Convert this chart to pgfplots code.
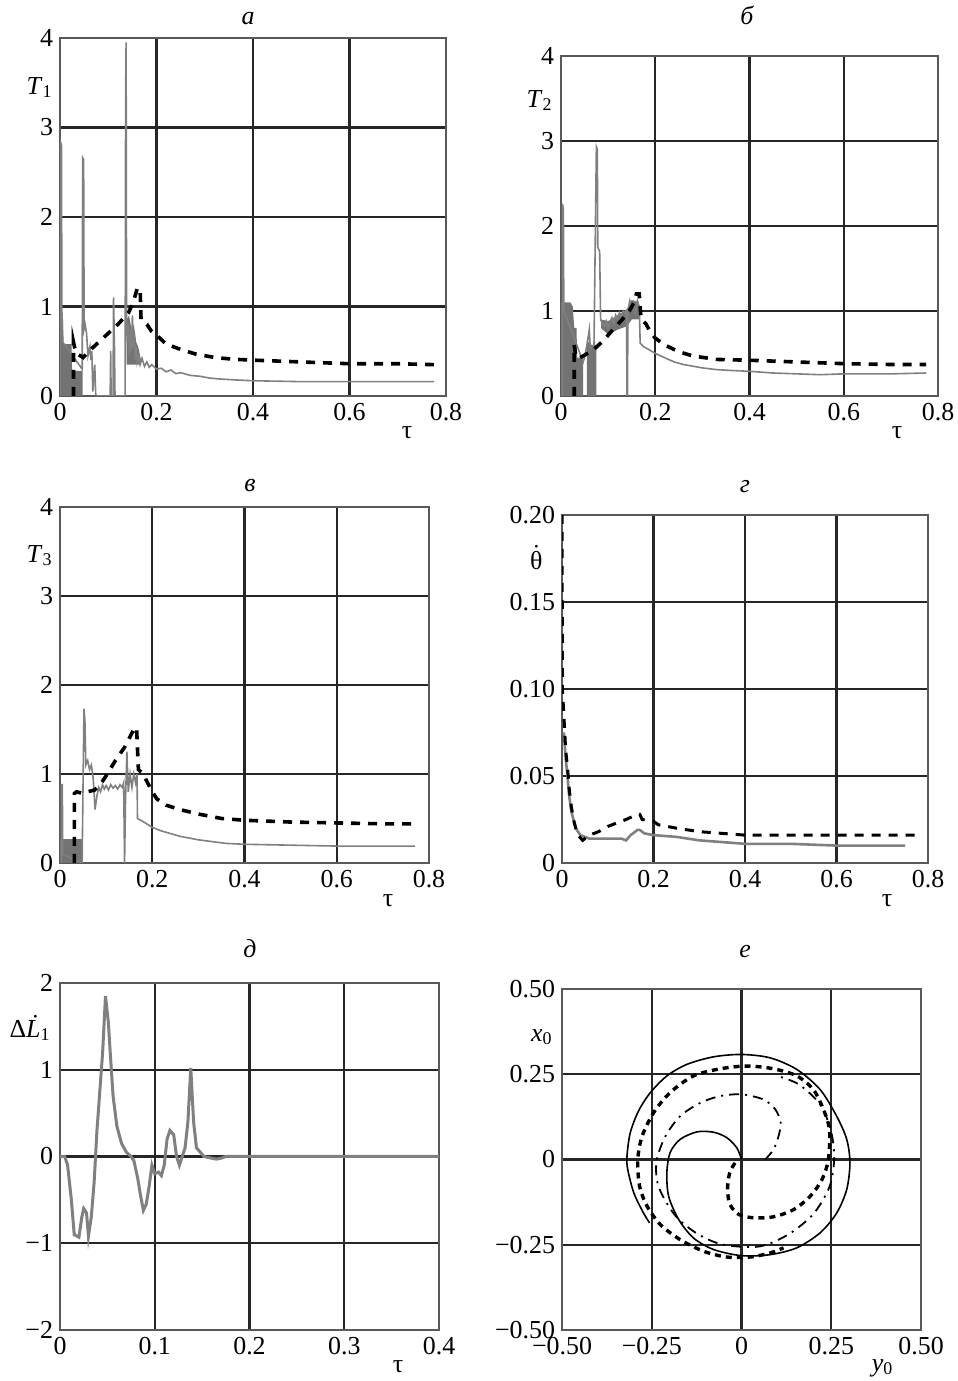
\documentclass[border=0pt]{standalone}
\usepackage{fontspec}
\setmainfont{Liberation Serif}
\usepackage{pgfplots}
\pgfplotsset{compat=1.18}

\pgfplotsset{
  panel/.style={
    scale only axis,
    anchor=south west,
    grid=major,
    major grid style={black!85, line width=1.1bp},
    axis line style={black!65, line width=0.6bp},
    tick style={draw=none},
    ticklabel style={font=\fontsize{13}{15}\selectfont},
    /pgf/number format/assume math mode=true,
  },
  tpanel/.style={panel, xmin=0, xmax=0.8, ymin=0, ymax=4,
    xtick={0,0.2,0.4,0.6,0.8}, xticklabels={0,0.2,0.4,0.6,0.8},
    ytick={0,1,2,3,4}, yticklabels={0,1,2,3,4}},
  grayln/.style={black!50, line width=0.8bp, no marks},
  grayfill/.style={fill=black!55, draw=none, no marks},
  dashln/.style={black, line width=1.8bp, dash pattern=on 4.5bp off 4bp, no marks},
}
\newcommand{\sub}[1]{\raisebox{-0.25ex}{\fontsize{9}{10}\selectfont #1}}

\begin{document}
\begin{tikzpicture}[x=0.5bp, y=0.5bp, font=\fontsize{13}{15}\selectfont]
\path[use as bounding box] (0,0) rectangle (957,1381);

% ---- a: T1
\begin{axis}[tpanel, at={(30bp,492.5bp)}, width=193bp, height=179bp]
  \addplot[grayfill] coordinates {(0,0.93) (0.006,0.93) (0.007,0.58) (0.024,0.58) (0.025,0.28) (0.047,0.28)} \closedcycle;
  \addplot[grayfill] coordinates {(0.138,0.35) (0.138,0.85) (0.143,0.9) (0.148,0.75) (0.153,0.8) (0.158,0.6) (0.162,0.55) (0.166,0.45) (0.168,0.4) (0.168,0.35)};
  \addplot[grayln] coordinates {
    (0.000,0) (0.0015,2.83) (0.003,2.80) (0.004,0.9) (0.006,0.6) (0.046,0.3)
    (0.047,2.66) (0.049,2.64) (0.050,0.75) (0.052,0.8) (0.055,0.7) (0.058,0.45)
    (0.062,0.55) (0.064,0.4) (0.066,0.5) (0.068,0.05) (0.072,0.35) (0.074,0.02)
    (0.076,0) (0.104,0) (0.105,0.5) (0.106,0) (0.110,0) (0.111,1.1) (0.113,0.5)
    (0.114,0) (0.135,0) (0.136,3.35) (0.137,3.95) (0.138,0.9) (0.140,0.6)
    (0.142,0.8) (0.144,0.45) (0.146,0.75) (0.148,0.5) (0.150,0.9) (0.152,0.55)
    (0.154,0.7) (0.156,0.4) (0.158,0.55) (0.160,0.38) (0.163,0.45) (0.166,0.35)
    (0.170,0.42) (0.175,0.33) (0.18,0.38) (0.185,0.32) (0.19,0.35) (0.2,0.3)
    (0.21,0.31) (0.22,0.27) (0.23,0.29) (0.24,0.25) (0.25,0.26) (0.27,0.23)
    (0.29,0.22) (0.31,0.2) (0.33,0.19) (0.36,0.18) (0.4,0.17) (0.45,0.165)
    (0.5,0.16) (0.6,0.16) (0.7,0.16) (0.775,0.16)};
  \addplot[dashln] coordinates {
    (0.028,0) (0.028,0.6) (0.03,0.55) (0.035,0.47) (0.042,0.45) (0.048,0.43)
    (0.06,0.5) (0.08,0.6) (0.1,0.7) (0.12,0.8) (0.142,0.93) (0.152,1.05)
    (0.16,1.2) (0.166,1.2) (0.168,0.85) (0.18,0.8) (0.19,0.72) (0.2,0.68)
    (0.22,0.58) (0.25,0.52) (0.28,0.47) (0.32,0.43) (0.36,0.41) (0.4,0.4)
    (0.5,0.38) (0.6,0.36) (0.7,0.36) (0.775,0.35)};
\end{axis}

% ---- б: T2
\begin{axis}[tpanel, at={(280.5bp,492.5bp)}, width=188.5bp, height=170bp]
  \addplot[grayfill] coordinates {(0,1.1) (0.02,1.1) (0.025,1.05) (0.028,0.8) (0.033,0.8) (0.034,0.45) (0.047,0.45)} \closedcycle;
  \addplot[grayfill] coordinates {(0.055,0.65) (0.065,0.6) (0.075,0.6)} \closedcycle;
  \addplot[grayfill] coordinates {(0.085,0.9) (0.1,0.88) (0.12,0.95) (0.14,1.02) (0.15,1.13) (0.165,1.1) (0.165,0.9) (0.15,0.9) (0.14,0.82) (0.12,0.78) (0.1,0.72) (0.085,0.8)};
  \addplot[grayln] coordinates {
    (0.003,0) (0.003,2.26) (0.005,2.2) (0.006,1.0) (0.047,0.4) (0.05,0.45)
    (0.055,0.6) (0.06,0.78) (0.062,0.55) (0.07,0.6) (0.075,2.93) (0.077,2.9)
    (0.078,1.75) (0.082,1.7) (0.084,0.9) (0.088,0.85) (0.092,0.82) (0.096,0.88)
    (0.1,0.8) (0.104,0.87) (0.108,0.92) (0.112,0.85) (0.116,0.95) (0.12,0.9)
    (0.124,0.98) (0.128,0.93) (0.132,1.0) (0.136,0.97) (0.139,1.0) (0.14,0)
    (0.141,0) (0.142,1.0) (0.146,1.12) (0.15,1.05) (0.154,1.1) (0.158,0.98)
    (0.162,1.12) (0.166,1.05) (0.168,0.62) (0.175,0.58) (0.185,0.55) (0.2,0.5)
    (0.22,0.45) (0.24,0.4) (0.26,0.37) (0.28,0.35) (0.3,0.33) (0.33,0.31)
    (0.36,0.3) (0.4,0.29) (0.45,0.27) (0.5,0.26) (0.55,0.25) (0.6,0.26)
    (0.7,0.26) (0.775,0.27)};
  \addplot[dashln] coordinates {
    (0.028,0) (0.028,0.6) (0.032,0.45) (0.04,0.45) (0.05,0.48) (0.07,0.55)
    (0.09,0.65) (0.11,0.78) (0.13,0.9) (0.145,1.0) (0.155,1.1) (0.16,1.2)
    (0.166,1.2) (0.17,0.9) (0.18,0.85) (0.19,0.75) (0.2,0.68) (0.22,0.6)
    (0.25,0.52) (0.28,0.47) (0.33,0.43) (0.4,0.42) (0.5,0.4) (0.6,0.38)
    (0.7,0.37) (0.775,0.37)};
\end{axis}

% ---- в: T3
\begin{axis}[tpanel, at={(30bp,259bp)}, width=184.5bp, height=178bp]
  \addplot[grayfill] coordinates {(0,0.27) (0.048,0.27)} \closedcycle;
  \addplot[grayln] coordinates {
    (0.003,0) (0.003,0.88) (0.005,0.88) (0.006,0.1) (0.048,0) (0.05,0.9)
    (0.052,1.73) (0.054,1.6) (0.056,1.1) (0.06,1.15) (0.064,1.05) (0.068,1.1)
    (0.072,0.95) (0.076,0.6) (0.08,0.75) (0.084,0.85) (0.088,0.8) (0.092,0.88)
    (0.096,0.83) (0.1,0.87) (0.105,0.82) (0.11,0.88) (0.115,0.84) (0.12,0.87)
    (0.125,0.83) (0.13,0.88) (0.135,0.85) (0.138,0.9) (0.14,0) (0.142,0.7)
    (0.145,1.25) (0.148,0.8) (0.152,1.0) (0.156,0.85) (0.16,1.0) (0.164,0.9)
    (0.167,1.0) (0.168,0.5) (0.175,0.48) (0.185,0.45) (0.2,0.4) (0.22,0.36)
    (0.24,0.33) (0.26,0.3) (0.28,0.28) (0.3,0.26) (0.33,0.24) (0.36,0.22)
    (0.4,0.21) (0.5,0.2) (0.6,0.19) (0.7,0.19) (0.77,0.19)};
  \addplot[dashln] coordinates {
    (0.031,0) (0.031,0.78) (0.036,0.8) (0.05,0.78) (0.06,0.8) (0.075,0.82)
    (0.09,0.9) (0.1,0.98) (0.12,1.15) (0.14,1.3) (0.155,1.45) (0.162,1.52)
    (0.166,1.52) (0.17,1.05) (0.18,1.0) (0.19,0.9) (0.2,0.8) (0.21,0.72)
    (0.23,0.65) (0.26,0.6) (0.3,0.55) (0.35,0.5) (0.4,0.48) (0.5,0.46)
    (0.6,0.45) (0.7,0.44) (0.77,0.44)};
\end{axis}

% ---- г: theta dot
\begin{axis}[panel, at={(281bp,259bp)}, width=183bp, height=174bp,
    xmin=0, xmax=0.8, ymin=0, ymax=0.2,
    xtick={0,0.2,0.4,0.6,0.8}, xticklabels={0,0.2,0.4,0.6,0.8},
    ytick={0,0.05,0.1,0.15,0.2}, yticklabels={0,0.05,0.10,0.15,0.20}]
  \addplot[grayln, line width=1.3bp] coordinates {
    (0.004,0.075) (0.008,0.06) (0.012,0.05) (0.015,0.04) (0.02,0.03)
    (0.025,0.025) (0.03,0.02) (0.04,0.016) (0.05,0.015) (0.06,0.014) (0.1,0.014)
    (0.13,0.014) (0.14,0.013) (0.15,0.016) (0.165,0.019) (0.17,0.019)
    (0.18,0.017) (0.2,0.016) (0.25,0.015) (0.3,0.013) (0.35,0.012) (0.4,0.011)
    (0.5,0.011) (0.6,0.01) (0.75,0.01)};
  \addplot[dashln, line width=1.5bp] coordinates {
    (0,0.2) (0.001,0.1) (0.005,0.08) (0.008,0.065) (0.012,0.055) (0.016,0.042)
    (0.02,0.033) (0.025,0.025) (0.03,0.02) (0.035,0.016) (0.045,0.013)
    (0.06,0.016) (0.08,0.018) (0.1,0.021) (0.12,0.023) (0.14,0.025)
    (0.165,0.028) (0.17,0.028) (0.175,0.025) (0.2,0.024) (0.21,0.022)
    (0.25,0.02) (0.3,0.018) (0.35,0.017) (0.4,0.016) (0.5,0.016) (0.6,0.016)
    (0.78,0.016)};
\end{axis}

% ---- д: Delta L dot
\begin{axis}[panel, at={(30bp,25.5bp)}, width=189.5bp, height=173.5bp,
    xmin=0, xmax=0.4, ymin=-2, ymax=2,
    xtick={0,0.1,0.2,0.3,0.4}, xticklabels={0,0.1,0.2,0.3,0.4},
    ytick={-2,-1,0,1,2}, yticklabels={−2,−1,0,1,2}]
  \addplot[grayln, line width=1.5bp] coordinates {
    (0,0) (0.005,0) (0.008,-0.1) (0.012,-0.5) (0.015,-0.9) (0.02,-0.93)
    (0.023,-0.7) (0.025,-0.6) (0.028,-0.65) (0.03,-0.92) (0.033,-0.7)
    (0.036,-0.3) (0.039,0.3) (0.042,0.75) (0.045,1.2) (0.048,1.85)
    (0.051,1.55) (0.053,1.2) (0.056,0.7) (0.06,0.35) (0.065,0.15) (0.07,0.05)
    (0.075,0) (0.078,-0.05) (0.082,-0.25) (0.085,-0.45) (0.088,-0.62)
    (0.091,-0.55) (0.094,-0.35) (0.097,-0.1) (0.1,-0.2) (0.104,-0.18)
    (0.107,-0.22) (0.11,-0.1) (0.113,0.2) (0.116,0.3) (0.12,0.25) (0.123,0)
    (0.126,-0.1) (0.129,0) (0.132,0.1) (0.135,0.4) (0.138,1.02) (0.141,0.4)
    (0.144,0.1) (0.148,0.05) (0.152,0) (0.16,-0.02) (0.165,-0.03) (0.17,-0.02)
    (0.175,0) (0.18,0) (0.25,0) (0.3,0) (0.35,0) (0.4,0)};
\end{axis}

% ---- е: x0(y0)
\begin{axis}[panel, at={(281bp,25.5bp)}, width=179.5bp, height=170.5bp,
    xmin=-0.5, xmax=0.5, ymin=-0.5, ymax=0.5,
    xtick={-0.5,-0.25,0,0.25,0.5}, xticklabels={−0.50,−0.25,0,0.25,0.50},
    ytick={-0.5,-0.25,0,0.25,0.5}, yticklabels={−0.50,−0.25,0,0.25,0.50}]
  \addplot[black, line width=0.8bp, no marks, smooth] coordinates {
    (-0.256,-0.186) (-0.273,-0.157) (-0.300,-0.098) (-0.317,-0.029)
    (-0.319,0.010) (-0.310,0.078) (-0.287,0.142) (-0.254,0.196) (-0.208,0.245)
    (-0.152,0.279) (-0.078,0.301) (0,0.308) (0.080,0.298) (0.154,0.264)
    (0.219,0.205) (0.265,0.127) (0.293,0.059) (0.302,-0.010) (0.293,-0.088)
    (0.265,-0.157) (0.219,-0.215) (0.154,-0.259) (0.080,-0.279) (0,-0.282)
    (-0.078,-0.264) (-0.134,-0.230) (-0.175,-0.176) (-0.203,-0.108)
    (-0.208,-0.039) (-0.199,0.020) (-0.171,0.059) (-0.124,0.081)
    (-0.078,0.080) (-0.041,0.064) (-0.013,0.034) (0,0)};
  \addplot[black, line width=1.7bp, dash pattern=on 3bp off 2.5bp, no marks, smooth] coordinates {
    (-0.018,-0.010) (-0.033,-0.039) (-0.039,-0.088) (-0.032,-0.132)
    (-0.008,-0.161) (0.033,-0.171) (0.089,-0.168) (0.145,-0.147)
    (0.191,-0.108) (0.224,-0.059) (0.242,0) (0.245,0.088) (0.228,0.147)
    (0.200,0.205) (0.154,0.245) (0.089,0.266) (0.015,0.274) (-0.059,0.266)
    (-0.134,0.245) (-0.199,0.196) (-0.245,0.137) (-0.277,0.068) (-0.289,0)
    (-0.284,-0.078) (-0.263,-0.137) (-0.226,-0.191) (-0.171,-0.235)
    (-0.106,-0.269) (-0.041,-0.286) (0.024,-0.286) (0.080,-0.274)
    (0.117,-0.259)};
  \addplot[black, line width=0.9bp, dash pattern=on 5bp off 3bp on 1bp off 3bp, no marks, smooth] coordinates {
    (0.066,0) (0.089,0.029) (0.103,0.068) (0.109,0.108) (0.094,0.147)
    (0.061,0.176) (0,0.191) (-0.059,0.186) (-0.115,0.166) (-0.171,0.127)
    (-0.212,0.068) (-0.236,0) (-0.236,-0.059) (-0.219,-0.108) (-0.18,-0.17)
    (-0.12,-0.22) (-0.05,-0.25) (0.05,-0.255) (0.13,-0.22) (0.2,-0.16)
    (0.245,-0.08) (0.258,0) (0.25,0.08) (0.22,0.16) (0.16,0.22) (0.1,0.245)};
\end{axis}

% ---- panel letters
\begin{scope}[every node/.style={font=\fontsize{13}{15}\selectfont\itshape, anchor=base}]
  \node at (248,1356) {а};
  \node at (747,1356) {б};
  \node at (250,889) {в};
  \node at (745,888) {г};
  \node at (250,423) {д};
  \node at (745,423) {е};
\end{scope}

% ---- axis names
\begin{scope}[every node/.style={font=\fontsize{13}{15}\selectfont, inner sep=0pt}]
  \node[anchor=base east] at (52,1286) {\textit{T}\sub{1}};
  \node[anchor=base east] at (552,1273) {\textit{T}\sub{2}};
  \node[anchor=base east] at (52,818) {\textit{T}\sub{3}};
  \node[anchor=base east] at (543,811) {\ooalign{θ\cr\hidewidth\raisebox{0.3em}{˙}\hidewidth\cr}};
  \node[anchor=base east] at (50,343) {Δ\ooalign{\textit{L}\cr\hidewidth\kern0.15em\raisebox{0.2em}{˙}\hidewidth\cr}\sub{1}};
  \node[anchor=base east] at (552,339) {\textit{x}\sub{0}};
  \node[anchor=base] at (407,942) {τ};
  \node[anchor=base] at (897,942) {τ};
  \node[anchor=base] at (388,474) {τ};
  \node[anchor=base] at (887,474) {τ};
  \node[anchor=base] at (398,8) {τ};
  \node[anchor=base] at (882,9) {\textit{y}\sub{0}};
\end{scope}
\end{tikzpicture}
\end{document}
